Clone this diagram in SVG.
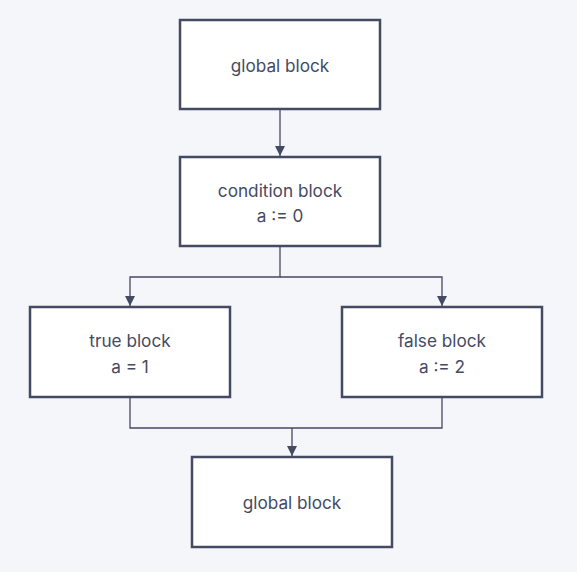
<svg xmlns="http://www.w3.org/2000/svg" width="577" height="572" viewBox="0 0 577 572">
<style>
.node rect{fill:#ffffff;stroke:#454a63;stroke-width:2.5}
.node text{font-family:Inter,"Noto Sans",sans-serif;font-size:17.2px;fill:#454a63;text-anchor:middle}
.edge{fill:none;stroke:#454a63;stroke-width:1.3}
</style>
<defs>
<marker id="arr" viewBox="0 0 10 10" refX="10" refY="5" markerWidth="10" markerHeight="10" markerUnits="userSpaceOnUse" orient="auto">
<path d="M0,0 L10,5 L0,10 Z" fill="#454a63"/>
</marker>
</defs>
<rect width="577" height="572" fill="#f5f6fa"/>
<g id="connectors">
<path class="edge" d="M280,109 L280,156" marker-end="url(#arr)"/>
<path class="edge" d="M280,246 L280,277 L130,277 L130,306" marker-end="url(#arr)"/>
<path class="edge" d="M280,277 L442,277 L442,306" marker-end="url(#arr)"/>
<path class="edge" d="M130,397 L130,428 L442,428 L442,397"/>
<path class="edge" d="M292,428 L292,456" marker-end="url(#arr)"/>
</g>
<g id="global1" class="node">
<rect x="180" y="20" width="200" height="89"/>
<text x="280" y="71.5">global block</text>
</g>
<g id="condition" class="node">
<rect x="180" y="157" width="200" height="89"/>
<text x="280" y="196.5">condition block</text>
<text x="280" y="221.5">a := 0</text>
</g>
<g id="true" class="node">
<rect x="30" y="307" width="200" height="90"/>
<text x="130" y="346.5">true block</text>
<text x="130" y="372.5">a = 1</text>
</g>
<g id="false" class="node">
<rect x="342" y="307" width="200" height="90"/>
<text x="442" y="346.5">false block</text>
<text x="442" y="372.5">a := 2</text>
</g>
<g id="global2" class="node">
<rect x="192" y="457" width="200" height="90"/>
<text x="292" y="508.5">global block</text>
</g>
</svg>
